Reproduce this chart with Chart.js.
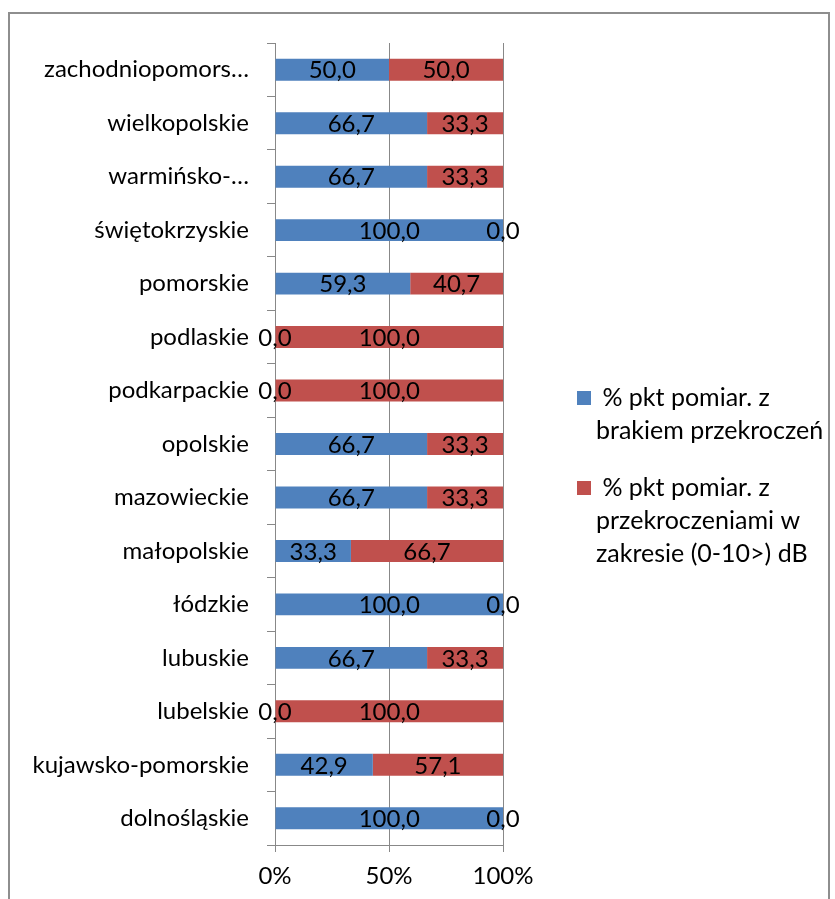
<!DOCTYPE html>
<html>
<head>
<meta charset="utf-8">
<script src="https://cdn.jsdelivr.net/npm/chart.js@4.4.1/dist/chart.umd.min.js"></script>
<style>
    html, body { margin: 0; padding: 0; background: #fff; }
    #wrap { position: relative; width: 835px; height: 899px; overflow: hidden; }
    #frame { position: absolute; left: 8px; top: 12px; width: 818px; height: 900px; border: 2px solid #8e8e8e; pointer-events: none; }
</style>
</head>
<body>
<div id="wrap">
    <canvas id="regionChart" width="835" height="899"></canvas>
    <div id="frame"></div>
</div>
<script>
const regions = ['zachodniopomors…', 'wielkopolskie', 'warmińsko-…', 'świętokrzyskie', 'pomorskie', 'podlaskie', 'podkarpackie', 'opolskie', 'mazowieckie', 'małopolskie', 'łódzkie', 'lubuskie', 'lubelskie', 'kujawsko-pomorskie', 'dolnośląskie'];
const noExceed = [50.0, 66.7, 66.7, 100.0, 59.3, 0.0, 0.0, 66.7, 66.7, 33.3, 100.0, 66.7, 0.0, 42.9, 100.0];
const exceed = [50.0, 33.3, 33.3, 0.0, 40.7, 100.0, 100.0, 33.3, 33.3, 66.7, 0.0, 33.3, 100.0, 57.1, 0.0];
const seriesNames = [
    [' % pkt pomiar. z', 'brakiem przekroczeń'],
    [' % pkt pomiar. z', 'przekroczeniami w', 'zakresie (0-10>) dB']
];
const xTicks = [0, 50, 100];

const fontFamily = 'Lato, "Open Sans", sans-serif';
const fontSize = 24;
const gridColor = '#888888';

// value labels in the middle of each bar segment
const barLabels = {
    id: 'barLabels',
    afterDatasetsDraw(chart) {
        const ctx = chart.ctx;
        ctx.save();
        ctx.font = fontSize + 'px ' + fontFamily;
        ctx.fillStyle = '#000';
        ctx.textAlign = 'center';
        ctx.textBaseline = 'middle';
        chart.data.datasets.forEach((ds, i) => {
            chart.getDatasetMeta(i).data.forEach((bar, j) => {
                const p = bar.getCenterPoint();
                ctx.fillText(ds.data[j].toFixed(1).replace('.', ','), p.x, p.y + 1);
            });
        });
        ctx.restore();
    }
};

// legend on the right with wrapped text
const sideLegend = {
    id: 'sideLegend',
    afterDraw(chart) {
        const ctx = chart.ctx;
        const tops = [398, 488];
        ctx.save();
        ctx.font = '25px ' + fontFamily;
        ctx.textAlign = 'left';
        ctx.textBaseline = 'middle';
        chart.data.datasets.forEach((ds, i) => {
            ctx.fillStyle = ds.backgroundColor;
            ctx.fillRect(577, tops[i] - 7, 14, 14);
            ctx.fillStyle = '#000';
            seriesNames[i].forEach((line, k) => {
                ctx.fillText(line, 596, tops[i] + k * 33);
            });
        });
        ctx.restore();
    }
};

const ctxRegion = document.getElementById('regionChart').getContext('2d');
const regionChart = new Chart(ctxRegion, {
    type: 'bar',
    data: {
        labels: regions,
        datasets: [{
            label: seriesNames[0].join(' ').trim(),
            data: noExceed,
            backgroundColor: '#4F81BD',
            barPercentage: 0.41,
            categoryPercentage: 1
        }, {
            label: seriesNames[1].join(' ').trim(),
            data: exceed,
            backgroundColor: '#C0504D',
            barPercentage: 0.41,
            categoryPercentage: 1
        }]
    },
    options: {
        indexAxis: 'y',
        responsive: false,
        animation: false,
        layout: {
            padding: { top: 43, right: 332, left: 0, bottom: 0 }
        },
        scales: {
            x: {
                stacked: true,
                min: 0,
                max: 100,
                afterBuildTicks: function (scale) {
                    scale.ticks = xTicks.map(v => ({ value: v }));
                },
                afterFit: function (scale) {
                    scale.height = 54;
                },
                grid: {
                    color: gridColor,
                    tickLength: 7
                },
                border: { color: gridColor },
                ticks: {
                    color: '#000',
                    padding: 10,
                    font: { family: fontFamily, size: fontSize },
                    callback: function (value) {
                        return value + '%';
                    }
                }
            },
            y: {
                stacked: true,
                afterFit: function (scale) {
                    scale.width = 275;
                },
                grid: {
                    drawOnChartArea: false,
                    color: gridColor,
                    tickLength: 8
                },
                border: { color: gridColor },
                ticks: {
                    color: '#000',
                    padding: 18,
                    autoSkip: false,
                    font: { family: fontFamily, size: fontSize }
                }
            }
        },
        plugins: {
            legend: { display: false },
            tooltip: { enabled: false }
        }
    },
    plugins: [barLabels, sideLegend]
});
</script>
</body>
</html>
